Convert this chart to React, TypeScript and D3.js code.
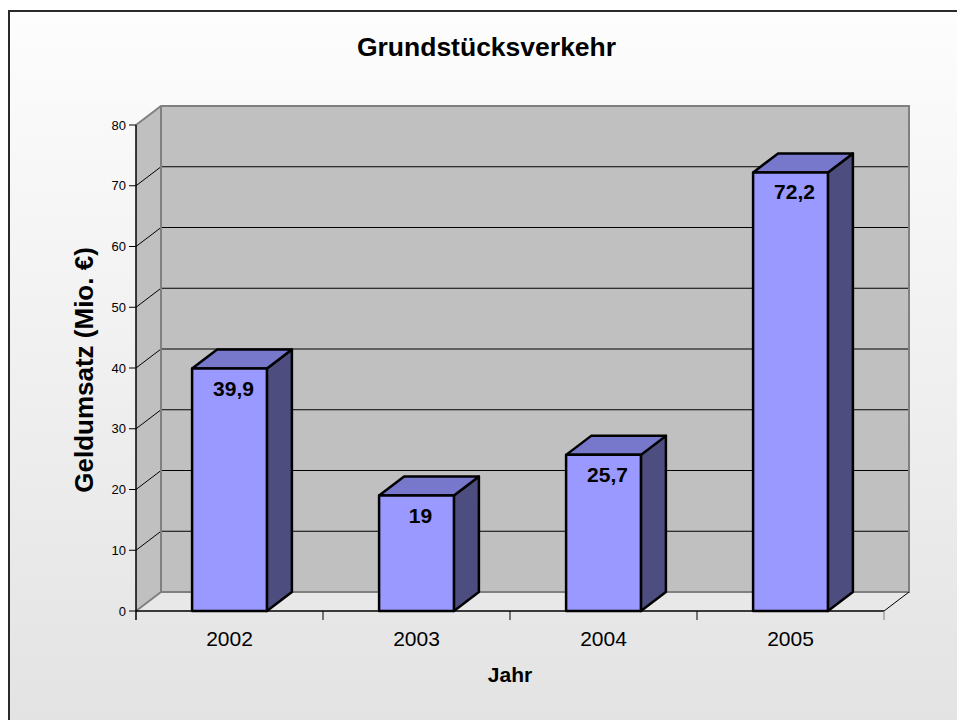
import React from "react";
import * as d3 from "d3";

const categories = ["2002", "2003", "2004", "2005"];
const values = [39.9, 19, 25.7, 72.2];
const valueLabels = ["39,9", "19", "25,7", "72,2"];
const yTicks = [0, 10, 20, 30, 40, 50, 60, 70, 80];
const title = "Grundstücksverkehr";
const yTitle = "Geldumsatz (Mio. €)";
const xTitle = "Jahr";

const W = 957;
const H = 720;
const left = 136;
const right = 884;
const top = 125;
const bottom = 611;
const DX = 25;
const DY = -19;

export default function App() {
  const y = d3.scaleLinear().domain([0, 80]).range([bottom, top]);
  const x = d3.scaleBand().domain(categories).range([left, right]).paddingInner(0).paddingOuter(0);
  const bw = x.bandwidth() * 0.4;
  const font = "Arial, 'Liberation Sans', sans-serif";
  const pts = (a: number[][]) => a.map((p) => p.join(",")).join(" ");
  const gridBottom = bottom + DY;
  const wallTop = top + DY;

  return (
    <svg width={W} height={H} style={{ position: "absolute", left: 0, top: 0 }}>
      <defs>
        <linearGradient id="bg" x1="0" y1="0" x2="0" y2="1">
          <stop offset="0" stopColor="#fdfdfd" />
          <stop offset="1" stopColor="#e2e2e2" />
        </linearGradient>
      </defs>
      <rect x={0} y={0} width={W} height={H} fill="#ffffff" />
      <rect x={9} y={11} width={W + 20} height={H + 20} fill="url(#bg)" stroke="#2a2a2a" strokeWidth={2} />

      {/* floor */}
      <polygon
        points={pts([[left, bottom], [right, bottom], [right + DX, gridBottom], [left + DX, gridBottom]])}
        fill="#e8e8e8"
      />
      {/* side wall */}
      <polygon
        points={pts([[left, bottom], [left, top], [left + DX, wallTop], [left + DX, gridBottom]])}
        fill="#c0c0c0"
      />
      {/* back wall */}
      <rect x={left + DX} y={wallTop} width={right - left} height={bottom - top} fill="#c0c0c0" />

      {/* gridlines */}
      {yTicks.filter((t) => t > 0 && t < 80).map((t) => (
        <g key={t}>
          <line x1={left} y1={y(t)} x2={left + DX} y2={y(t) + DY} stroke="#000" strokeWidth={1} />
          <line x1={left + DX} y1={y(t) + DY} x2={right + DX} y2={y(t) + DY} stroke="#000" strokeWidth={1} />
        </g>
      ))}

      {/* wall edges */}
      <g stroke="#808080" strokeWidth={2} fill="none">
        <polyline points={pts([[left, top], [left + DX, wallTop], [right + DX, wallTop], [right + DX, gridBottom], [left + DX, gridBottom], [left, bottom]])} />
        <line x1={left + DX} y1={wallTop} x2={left + DX} y2={gridBottom} />
      </g>
      {/* floor front & right edge */}
      <line x1={left} y1={bottom} x2={right} y2={bottom} stroke="#000" strokeWidth={1.5} />
      <line x1={right} y1={bottom} x2={right + DX} y2={gridBottom} stroke="#000" strokeWidth={1} />

      {/* y axis */}
      <line x1={left} y1={top} x2={left} y2={bottom + 9} stroke="#000" strokeWidth={1.5} />
      {yTicks.map((t) => (
        <g key={t}>
          <line x1={left - 7} y1={y(t)} x2={left} y2={y(t)} stroke="#000" strokeWidth={1} />
          <text x={left - 10} y={y(t) + 4.5} textAnchor="end" fontFamily={font} fontSize={13} fill="#000">
            {t}
          </text>
        </g>
      ))}

      {/* x ticks */}
      {categories.map((c, i) => (
        <line key={"t" + c} x1={(x(c) as number) + x.bandwidth()} y1={bottom} x2={(x(c) as number) + x.bandwidth()} y2={bottom + 9} stroke={i === categories.length - 1 ? "#808080" : "#000"} strokeWidth={1} />
      ))}
      {categories.map((c) => (
        <text key={"l" + c} x={(x(c) as number) + x.bandwidth() / 2} y={646} textAnchor="middle" fontFamily={font} fontSize={21} fill="#000">
          {c}
        </text>
      ))}

      {/* bars */}
      {categories.map((c, i) => {
        const cx = (x(c) as number) + x.bandwidth() / 2;
        const x0 = cx - bw / 2;
        const x1 = cx + bw / 2;
        const yt = y(values[i]);
        return (
          <g key={"b" + c} stroke="#000" strokeWidth={2.5} strokeLinejoin="round">
            <polygon points={pts([[x1, yt], [x1 + DX, yt + DY], [x1 + DX, gridBottom], [x1, bottom]])} fill="#4d4d80" />
            <polygon points={pts([[x0, yt], [x0 + DX, yt + DY], [x1 + DX, yt + DY], [x1, yt]])} fill="#7777cc" />
            <rect x={x0} y={yt} width={bw} height={bottom - yt} fill="#9999ff" />
            <text x={cx + 4} y={yt + 27} textAnchor="middle" fontFamily={font} fontSize={21} fontWeight="bold" fill="#000" stroke="none">
              {valueLabels[i]}
            </text>
          </g>
        );
      })}

      {/* titles */}
      <text x={486.5} y={56} textAnchor="middle" fontFamily={font} fontSize={26.5} fontWeight="bold" fill="#000">
        {title}
      </text>
      <text transform={`translate(93,370) rotate(-90)`} textAnchor="middle" fontFamily={font} fontSize={26} fontWeight="bold" fill="#000">
        {yTitle}
      </text>
      <text x={510} y={682} textAnchor="middle" fontFamily={font} fontSize={21} fontWeight="bold" fill="#000">
        {xTitle}
      </text>
    </svg>
  );
}
